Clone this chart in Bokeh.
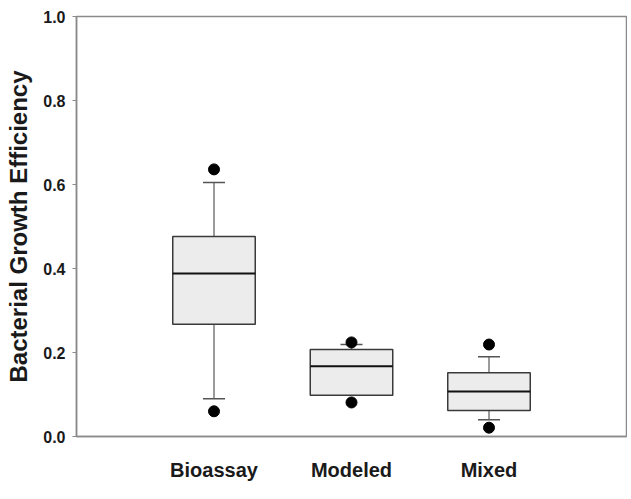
from bokeh.plotting import figure
from bokeh.models import FixedTicker, Range1d, ColumnDataSource
from bokeh.embed import file_html
from bokeh.resources import INLINE

categories = ["Bioassay", "Modeled", "Mixed"]
positions = [1, 2, 3]
q1 = [0.267, 0.098, 0.062]
median = [0.388, 0.167, 0.107]
q3 = [0.476, 0.207, 0.152]
whisker_low = [0.090, 0.098, 0.040]
whisker_high = [0.605, 0.219, 0.190]
outlier_low = [0.060, 0.081, 0.021]
outlier_high = [0.636, 0.224, 0.219]
y_ticks = [0.0, 0.2, 0.4, 0.6, 0.8, 1.0]

box_w = 0.6
cap_w = 0.16

src = ColumnDataSource(dict(
    x=positions, q1=q1, med=median, q3=q3, lo=whisker_low, hi=whisker_high,
    cap_l=[x - cap_w / 2 for x in positions], cap_r=[x + cap_w / 2 for x in positions],
    box_l=[x - box_w / 2 for x in positions], box_r=[x + box_w / 2 for x in positions],
))

p = figure(width=627, height=491, output_backend="svg", toolbar_location=None,
           x_range=Range1d(0, 4), y_range=Range1d(0, 1.0),
           min_border_left=76, min_border_right=1, min_border_top=16, min_border_bottom=55)

p.xgrid.visible = False
p.ygrid.visible = False
p.outline_line_color = "#8a8a8a"
p.outline_line_width = 1.5

# whiskers
p.segment(x0="x", y0="q3", x1="x", y1="hi", source=src, line_color="#7a7a7a", line_width=1.5)
p.segment(x0="x", y0="lo", x1="x", y1="q1", source=src, line_color="#7a7a7a", line_width=1.5)
p.segment(x0="cap_l", y0="hi", x1="cap_r", y1="hi", source=src, line_color="#555555", line_width=1.5)
p.segment(x0="cap_l", y0="lo", x1="cap_r", y1="lo", source=src, line_color="#555555", line_width=1.5)

# boxes
p.vbar(x="x", width=box_w, bottom="q1", top="q3", source=src,
       fill_color="#ececec", line_color="#3a3a3a", line_width=1.5)
p.segment(x0="box_l", y0="med", x1="box_r", y1="med", source=src, line_color="#111111", line_width=2)

# outliers
p.scatter(positions, outlier_low, size=11, color="black")
p.scatter(positions, outlier_high, size=11, color="black")

# y axis
p.yaxis.ticker = FixedTicker(ticks=y_ticks)
p.yaxis.major_label_overrides = {t: f"{t:.1f}" for t in y_ticks}
p.yaxis.axis_label = "Bacterial Growth Efficiency"
p.yaxis.axis_label_text_font = "Liberation Sans"
p.yaxis.axis_label_text_font_style = "bold"
p.yaxis.axis_label_text_font_size = "24px"
p.yaxis.axis_label_text_color = "#1a1a1a"
p.yaxis.axis_label_standoff = 8
p.yaxis.major_label_text_font = "Liberation Sans"
p.yaxis.major_label_text_font_style = "bold"
p.yaxis.major_label_text_font_size = "16px"
p.yaxis.major_label_text_color = "#1a1a1a"
p.yaxis.major_label_standoff = 7
p.yaxis.axis_line_color = "#8a8a8a"
p.yaxis.axis_line_width = 1.5
p.yaxis.major_tick_line_color = "#8a8a8a"
p.yaxis.major_tick_out = 4
p.yaxis.major_tick_in = 0
p.yaxis.minor_tick_line_color = None

# x axis
p.xaxis.ticker = FixedTicker(ticks=positions)
p.xaxis.major_label_overrides = {pos: c for pos, c in zip(positions, categories)}
p.xaxis.major_label_text_font = "Liberation Sans"
p.xaxis.major_label_text_font_style = "bold"
p.xaxis.major_label_text_font_size = "20px"
p.xaxis.major_label_text_color = "#1a1a1a"
p.xaxis.major_label_standoff = 16
p.xaxis.axis_line_color = "#8a8a8a"
p.xaxis.axis_line_width = 1.5
p.xaxis.major_tick_line_color = None
p.xaxis.minor_tick_line_color = None

open("out.html", "w").write(file_html(p, INLINE))
